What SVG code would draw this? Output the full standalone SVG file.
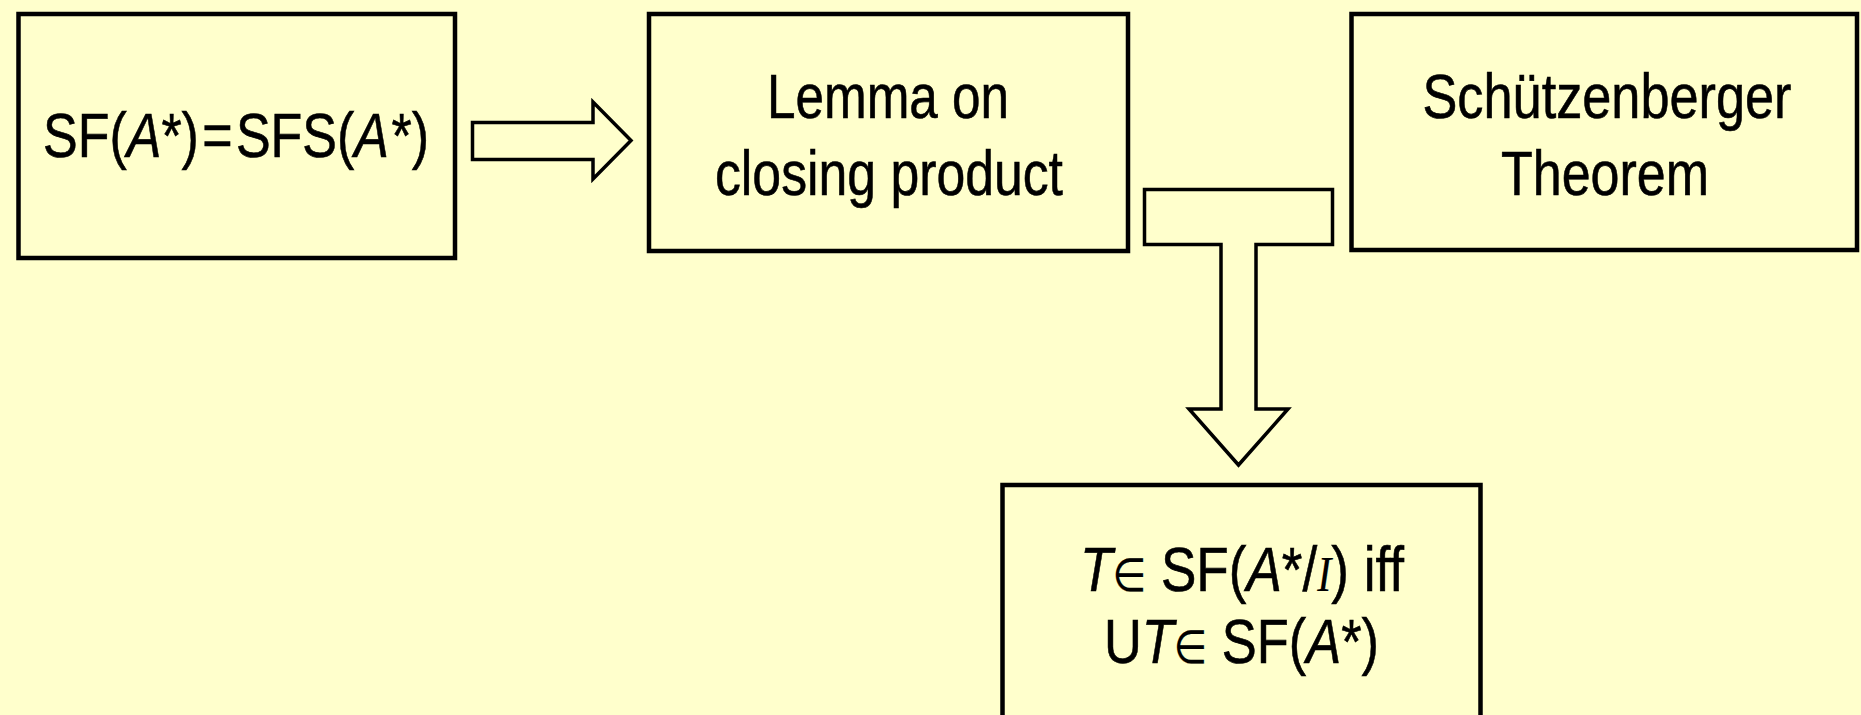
<svg xmlns="http://www.w3.org/2000/svg" width="1861" height="715" viewBox="0 0 1861 715">
<style>
.bg{fill:#FFFFCC}
.box{fill:#FFFFCC;stroke:#000;stroke-width:4.5}
.arr{fill:#FFFFCC;stroke:#000;stroke-width:3.5;stroke-linejoin:miter}
.t{font-family:"Liberation Sans Narrow","Arial Narrow","Liberation Sans",Arial,sans-serif;font-size:63px;fill:#000;stroke:#000;stroke-width:0.6;text-anchor:middle}
.i{font-style:italic}
.el{font-family:"DejaVu Sans",sans-serif;font-size:46px;stroke-width:0.2}
.serif{font-family:"Liberation Serif","Times New Roman",serif;font-style:italic;font-size:50px;stroke-width:0.2}
</style>
<rect class="bg" x="0" y="0" width="1861" height="715"/>
<g id="connectors">
<polygon id="arrow-right" class="arr" points="472.5,122.5 593,122.5 593,102 631,140.5 593,179 593,159.5 472.5,159.5"/>
<polygon id="arrow-down" class="arr" points="1144.5,189.5 1332.5,189.5 1332.5,244.5 1256,244.5 1256,409 1288,409 1238.5,465 1189,409 1221,409 1221,244.5 1144.5,244.5"/>
</g>
<g id="node-sf">
<rect class="box" x="18.5" y="14" width="436.5" height="244"/>
<text class="t" x="236" y="157" textLength="386" lengthAdjust="spacingAndGlyphs">SF(<tspan class="i">A</tspan>*)<tspan dx="4">=</tspan><tspan dx="4">SFS(</tspan><tspan class="i">A</tspan><tspan dx="3">*)</tspan></text>
</g>
<g id="node-lemma">
<rect class="box" x="649" y="14" width="479" height="237"/>
<text class="t" x="888" y="118" textLength="242" lengthAdjust="spacingAndGlyphs">Lemma on</text>
<text class="t" x="889" y="195" textLength="348" lengthAdjust="spacingAndGlyphs">closing product</text>
</g>
<g id="node-schutz">
<rect class="box" x="1351.5" y="14" width="505.5" height="236"/>
<text class="t" x="1607" y="118" textLength="369" lengthAdjust="spacingAndGlyphs">Schützenberger</text>
<text class="t" x="1605" y="195" textLength="208" lengthAdjust="spacingAndGlyphs">Theorem</text>
</g>
<g id="node-result">
<rect class="box" x="1002.5" y="485" width="478" height="260"/>
<text class="t" x="1242" y="591" textLength="324" lengthAdjust="spacingAndGlyphs"><tspan class="i">T</tspan><tspan class="el">∈</tspan> SF(<tspan class="i">A</tspan>*/<tspan class="serif">I</tspan>) iff</text>
<text class="t" x="1241.5" y="663" textLength="275" lengthAdjust="spacingAndGlyphs">U<tspan class="i">T</tspan><tspan class="el">∈</tspan> SF(<tspan class="i">A</tspan>*)</text>
</g>
</svg>
